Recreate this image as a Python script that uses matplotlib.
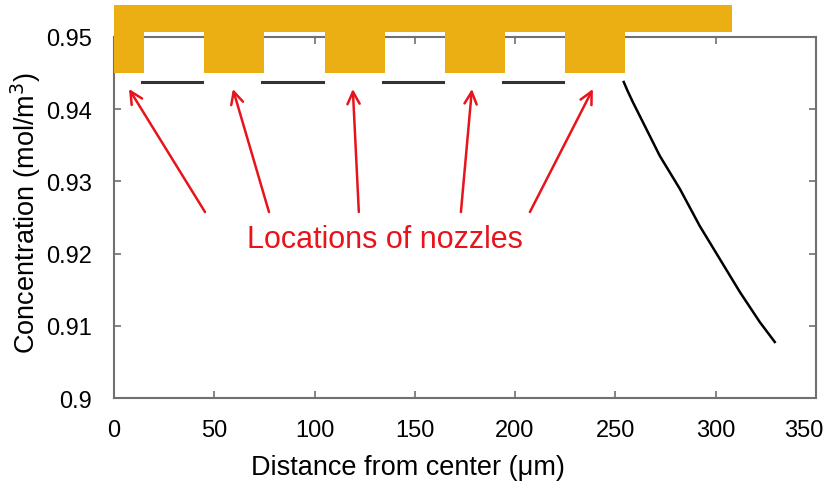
import matplotlib
matplotlib.use('Agg')
import matplotlib.pyplot as plt
import matplotlib.transforms as mtransforms

plt.rcParams['font.family'] = ['Liberation Sans', 'DejaVu Sans']

# nozzle walls (orange comb on top)
nozzle_start = [0, 45, 105, 165, 225]
nozzle_end = [15, 75, 135, 195, 255]
plate_end = 308
plate_top, plate_bottom, nozzle_bottom = 0.9544, 0.9507, 0.9450

# concentration under the gaps between nozzles
gap_start = [14, 74, 134, 194]
gap_end = [44, 104, 164, 224]
gap_conc = 0.9438

# concentration beyond the last nozzle
dist = [254.2, 256.0, 258.7, 263.7, 272.2, 282.2, 292.1, 302.1, 312.1, 322.0, 329.5]
conc = [0.94377, 0.94260, 0.94100, 0.93823, 0.93352, 0.92895, 0.92382,
        0.91925, 0.91468, 0.91053, 0.90776]

# arrows: from text up to each nozzle
arrow_heads = [7.5, 59.3, 119.1, 178.5, 238.8]
arrow_tails = [45.4, 77.3, 122.1, 173.0, 207.4]

orange = '#EBAE13'
red = '#E8141C'
grey = '#707070'

fig = plt.figure(figsize=(8.3, 4.89), dpi=100)
ax = fig.add_axes([0.1373, 0.184, 0.8457, 0.7383])

# top plate + nozzles
ax.bar(0, plate_top - plate_bottom, width=plate_end, bottom=plate_bottom,
       align='edge', color=orange, linewidth=0, clip_on=False, zorder=5)
widths = [e - s for s, e in zip(nozzle_start, nozzle_end)]
ax.bar(nozzle_start, plate_bottom - nozzle_bottom + 0.0001, width=widths,
       bottom=nozzle_bottom, align='edge', color=orange, linewidth=0,
       clip_on=False, zorder=5)

for s, e in zip(gap_start, gap_end):
    ax.plot([s, e], [gap_conc, gap_conc], color='#333333', lw=2.2)
ax.plot(dist, conc, color='black', lw=1.8)

for h, t in zip(arrow_heads, arrow_tails):
    ax.annotate('', xy=(h, 0.9428), xytext=(t, 0.92576),
                arrowprops=dict(arrowstyle='->', color=red, lw=1.8,
                                mutation_scale=22, shrinkA=0, shrinkB=0))
ax.text(135, 0.9220, 'Locations of nozzles', color=red, fontsize=22,
        ha='center', va='center')

ax.set_xlim(0, 350)
ax.set_ylim(0.9, 0.95)
ax.set_xticks([0, 50, 100, 150, 200, 250, 300, 350])
ax.set_yticks([0.9, 0.91, 0.92, 0.93, 0.94, 0.95])
ax.set_yticklabels(['0.9', '0.91', '0.92', '0.93', '0.94', '0.95'])
ax.tick_params(direction='in', length=5, width=1.2, color=grey,
               labelsize=17, top=True, right=True)
ax.tick_params(axis='x', pad=15)
ax.tick_params(axis='y', pad=16)
for sp in ax.spines.values():
    sp.set_color(grey)
    sp.set_linewidth(1.5)

# last x label sits a bit left so it stays inside the picture
last = ax.get_xticklabels()[-1]
last.set_transform(last.get_transform() +
                   mtransforms.ScaledTranslation(-0.12, 0, fig.dpi_scale_trans))

ax.set_xlabel('Distance from center (μm)', fontsize=19.5)
ax.set_ylabel('Concentration (mol/m$^3$)', fontsize=19.5)
ax.xaxis.set_label_coords(0.419, -0.155)
ax.yaxis.set_label_coords(-0.101, 0.515)

fig.savefig('out.png', dpi=100)
